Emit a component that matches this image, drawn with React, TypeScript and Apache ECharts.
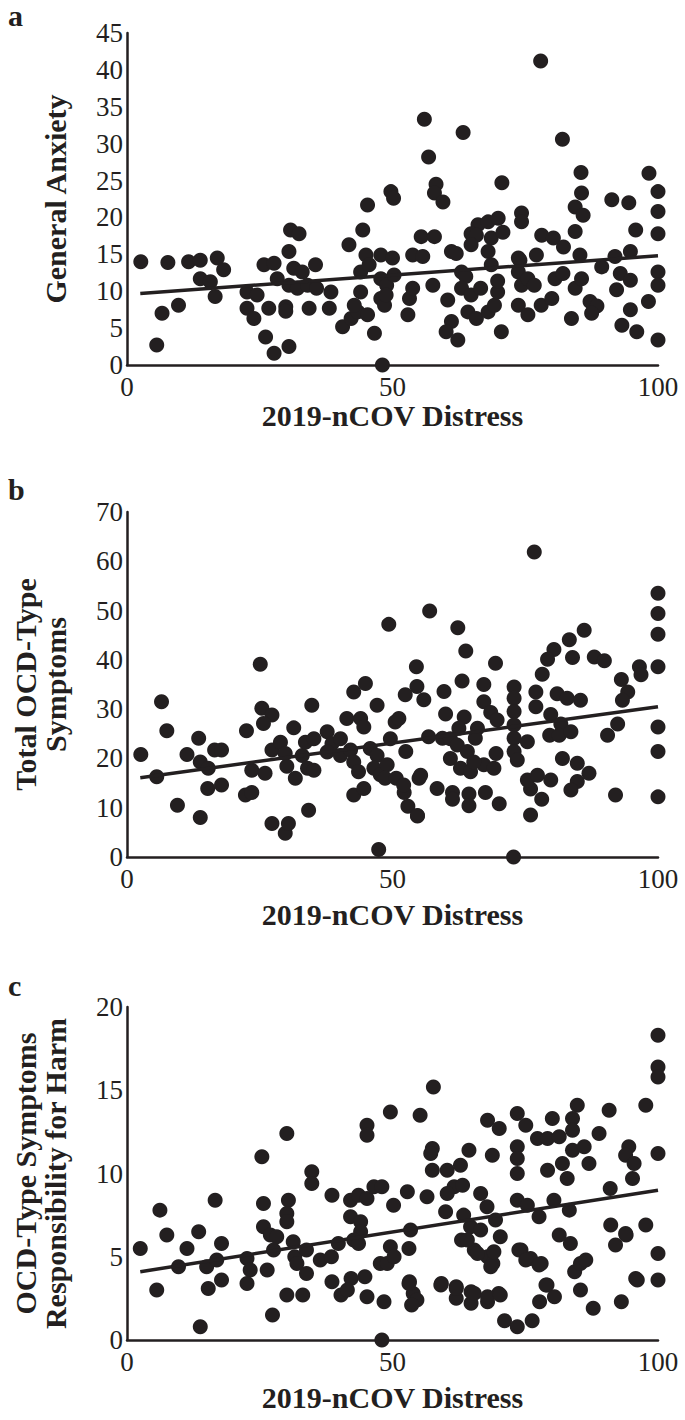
import React, { useEffect, useRef } from "react";
import * as echarts from "echarts";

const xTicks = [0, 50, 100];
const xName = "2019-nCOV Distress";
const panelLetters = ["a", "b", "c"];
const yNames = ["General Anxiety", "Total OCD-Type\nSymptoms", "OCD-Type Symptoms\nResponsibility for Harm"];
const yMax = [45, 70, 20];
const yStep = [5, 10, 5];

const pointsA: number[][] = [
  [2.6, 14.0], [7.7, 13.9], [11.6, 14.0], [13.8, 14.2], [17, 14.5], [18.2, 12.9], [13.8, 11.7], [15.7, 11.3], [16.6, 9.3], [6.6, 7.0], [9.7, 8.1], [5.6, 2.7],
  [25.8, 13.6], [27.7, 13.8], [30.8, 18.3], [32.4, 17.8], [30.5, 15.4], [28.3, 11.7], [31.4, 13.1], [33, 12.6], [35.5, 13.6], [30.5, 10.8], [32.1, 10.4], [34, 10.8], [35.7, 10.4], [38.4, 9.9], [22.6, 9.9], [24.5, 9.5], [22.6, 7.7], [23.9, 6.3], [26.7, 7.7], [29.9, 7.9], [29.9, 7.3], [34.3, 7.7], [38.1, 7.7], [26.1, 3.8], [27.7, 1.6], [30.5, 2.5],
  [40.6, 5.2], [42.2, 6.3], [43.5, 7.2], [42.8, 8.1], [45.3, 6.8], [46.6, 4.3], [48.1, 0], [41.8, 16.3], [44.4, 18.3], [45.3, 21.7], [49.7, 23.5], [50.2, 22.6], [45, 14.9], [47.8, 14.9], [44, 12.6], [45.6, 13.6], [47.8, 11.7], [44, 9.9], [47.8, 9.0], [48.5, 8.1], [48.9, 10.8],
  [77.9, 41.2], [56, 33.3], [63.3, 31.5], [82, 30.6], [56.8, 28.2], [85.5, 26.1], [98.3, 26], [70.6, 24.7], [58.2, 24.5], [57.9, 23.3], [59.5, 22.1], [85.6, 23.3], [84.4, 21.4], [85.9, 20.3], [91.3, 22.4], [94.5, 22.0], [100, 23.5], [100, 20.8], [100, 17.8], [95.8, 18.3], [94.8, 15.4],
  [74.3, 20.6], [74.3, 19.4], [66.1, 19], [68, 19.4], [69.9, 19.9], [64.8, 17.8], [65.8, 17.6], [68.6, 17.2], [70.8, 18], [64.8, 16.3], [68, 15.4], [55.4, 17.4], [57.9, 17.4], [53.8, 14.9], [55.7, 14.7], [61.1, 15.4], [62, 15.1],
  [78.1, 17.6], [80.3, 17.2], [82.2, 16.0], [84.4, 18.1], [85.3, 14.9], [77.1, 14.9], [74, 14.2], [91.9, 14.7], [89.4, 13.3], [92.9, 12.4], [94.8, 11.5], [100, 12.6], [100, 10.8], [92.2, 10.2], [98.2, 8.6], [87.2, 8.6], [88.5, 8.0], [87.5, 7.0], [83.7, 6.3], [94.8, 7.5], [93.2, 5.4], [96, 4.5], [100, 3.4],
  [50, 14.5], [50.3, 12.2], [48.8, 9.5], [53.2, 9.0], [52.9, 6.8], [53.8, 10.4], [57.6, 10.8], [60.4, 8.8], [61.1, 5.9], [60.1, 4.5], [62.3, 3.4], [63, 12.6], [63.8, 12.0], [63, 10.4], [64.8, 9.5], [66.6, 10.4], [64.2, 7.2], [65.8, 6.3], [68, 7.2], [69.2, 8.1], [69.8, 9.9], [69.8, 11.4], [68.6, 13.6], [70.5, 4.5],
  [73.7, 14.5], [73.7, 12.6], [74.3, 10.8], [75.5, 11.7], [76.7, 10.8], [73.7, 8.1], [75.5, 6.8], [78, 8.1], [80, 9.0], [80.6, 11.7], [82.1, 12.4], [84.4, 10.4], [85.6, 11.7],
];

const pointsB: number[][] = [
  [49.3, 47.2], [25.1, 39.1], [6.5, 31.5], [7.5, 25.6], [2.6, 20.8], [5.6, 16.3], [11.3, 20.8], [13.5, 24.1], [13.8, 19.3], [15.3, 18.0], [16.5, 21.7], [17.8, 21.7], [15.2, 13.9], [17.8, 14.6], [9.5, 10.5], [13.8, 8.0],
  [22.5, 25.6], [25.4, 30.2], [27.3, 28.8], [25.7, 27.1], [23.5, 17.6], [26, 17], [22.3, 12.6], [23.5, 13.1], [27.3, 6.8], [29.8, 4.8], [30.4, 6.8], [34.2, 9.5], [34.8, 30.8], [31.4, 26.2], [27.3, 21.7], [28.9, 23.3], [29.8, 21.0], [30.1, 18.4], [31.7, 16.0], [33, 20.6], [34, 18.0], [35.2, 17.6], [33.6, 23.3], [35.2, 24],
  [37.7, 25.4], [38.6, 23.0], [37.7, 21.3], [40.2, 24.0], [40.2, 20.6], [41.4, 28.1], [42.7, 33.5], [44.9, 35.2], [44, 28.1], [44.6, 26.4], [42.1, 21.7], [42.7, 19.3], [43.6, 17.3], [42.7, 12.6], [44.6, 13.9], [47.1, 30.8], [45.8, 22.0], [47.1, 20.6], [46.5, 18.0], [47.7, 16.7], [49, 18.7], [49.6, 24], [50.5, 27.4], [47.4, 1.5], [72.8, 0],
  [48.6, 16], [50.7, 16], [55, 16], [52.2, 13.1], [52.9, 10.3], [54.7, 8.3], [61.3, 13.1], [61.3, 11.7], [64.4, 12.8], [67.5, 13.1], [76, 13.8], [78.1, 11.7], [92, 12.6], [100, 12.2],
  [76.7, 61.9], [100, 53.5], [100, 49.4], [100, 45.2], [100, 38.6], [100, 26.4], [100, 21.4], [57, 49.9], [62.3, 46.5], [63.8, 41.8], [54.5, 38.6], [69.4, 39.3], [86.1, 46.0], [83.3, 44.1], [80.4, 42.1], [79.2, 40.1], [78.2, 37.1], [83.9, 40.5], [88, 40.6], [89.9, 39.8], [96.5, 38.6], [96.8, 37], [93.1, 36], [94.3, 33.5], [93.3, 31.8],
  [63.1, 35.7], [67.2, 35.0], [72.9, 34.5], [72.9, 32.2], [72.9, 29.5], [72.9, 26.8], [72.9, 24.1], [72.9, 21.4], [73.5, 19.7], [75.4, 23.4], [77, 33.5], [77, 30.5], [79.8, 28.9], [81, 33.1], [82.9, 32.2], [85.4, 31.8], [81.7, 27], [79.6, 24.7], [81.4, 24.7], [83.6, 25.4], [92.4, 27], [90.5, 24.7],
  [82, 20.0], [84.8, 19.0], [87, 17], [84.8, 15.3], [83.6, 13.6], [75.4, 15.6], [77.3, 16.6], [79.8, 15.6], [76, 8.5], [51.2, 28.1], [52.4, 32.9], [54.6, 34.6], [55.9, 31.9], [59.7, 33.6], [60, 29], [63.5, 28.4], [62.5, 26.1], [56.8, 24.4], [59.4, 24.1], [67.2, 31.5], [68.5, 29.3], [69.7, 27.8], [66, 26.1],
  [60.9, 24], [62.2, 22.7], [64.1, 21.4], [65.6, 24.1], [60.9, 20.0], [62.8, 18.0], [64.7, 17.3], [67.2, 18.7], [69.1, 18.0], [69.5, 21], [65.3, 19.3], [55.3, 16.6], [52.5, 21.4], [52.1, 14.6], [58.4, 13.9], [64.4, 10.4], [70.1, 10.8], [54.7, 8.4],
];

const pointsC: number[][] = [
  [6.2, 7.8], [7.5, 6.3], [2.5, 5.5], [11.3, 5.5], [13.5, 6.5], [16.6, 8.4], [17.8, 5.8], [9.7, 4.4], [15, 4.4], [16.9, 4.8], [5.6, 3.0], [15.3, 3.1], [17.8, 3.6], [22.6, 4.9], [23.2, 4.2], [22.6, 3.4], [26.4, 4.2],
  [25.4, 11.0], [30.1, 12.4], [25.7, 8.2], [30.4, 8.4], [30.1, 7.6], [30.1, 7.1], [25.7, 6.8], [27, 6.3], [28.2, 6.2], [27.6, 5.4], [31.3, 5.9], [31.6, 5.0], [33.8, 5.4], [32, 4.6], [33.8, 4.0], [36.4, 4.8], [34.8, 10.1], [34.8, 9.4], [38.6, 8.7],
  [42.1, 8.4], [43.6, 8.7], [45.2, 8.5], [46.5, 9.2], [48, 9.2], [45.2, 12.9], [45.2, 12.3], [49.6, 13.7], [42.1, 7.4], [44, 7.1], [44, 6.5], [42.7, 6.0], [43.6, 5.8], [39.8, 5.8], [38.5, 5.0], [42.2, 3.7], [44.8, 3.8], [38.6, 3.5], [30.1, 2.7], [33.1, 2.7], [40.3, 2.7], [45.2, 2.6], [47.7, 4.6], [49, 4.6], [50.2, 8.1],
  [13.8, 0.8], [27.4, 1.5], [48, 0], [41.5, 3.0], [48.4, 2.3], [53.2, 3.5], [53.9, 2.8], [54.6, 2.4], [53.6, 2.1], [59.2, 3.4], [62, 3.2], [62, 2.5], [64.8, 2.9], [64.8, 2.2], [67.9, 2.3], [70, 2.8], [71.1, 1.15], [73.5, 0.8], [76.3, 1.15], [77.7, 2.3], [79.1, 3.3], [80.5, 2.6],
  [74.2, 5.4], [76, 4.9], [78, 4.6], [85.4, 3.0], [87.8, 1.9], [84.3, 4.1], [85.4, 4.6], [86.4, 4.8], [93.1, 2.3], [95.8, 3.7], [100, 3.6], [100, 5.2], [92, 5.7], [94, 6.3], [83.5, 5.8], [81.4, 6.3], [63, 6.0], [65.4, 5.4], [67.9, 5.0], [68.9, 4.6], [70.3, 6.2],
  [100, 18.3], [100, 16.4], [100, 15.8], [100, 11.2], [57.7, 15.2], [55.2, 13.5], [67.9, 13.2], [70.1, 12.7], [73.5, 13.6], [75.1, 12.9], [80.1, 13.3], [84.8, 14.1], [83.9, 13.3], [83.9, 12.6], [90.8, 13.8], [97.7, 14.1], [77.3, 12.1], [79.2, 12.1], [81.4, 12.2], [88.9, 12.4],
  [57.5, 11.5], [57.2, 11.2], [64.4, 11.4], [68.8, 11.1], [73.5, 11.6], [73.5, 10.9], [73.5, 10.0], [83.9, 11.4], [86.1, 11.6], [82.0, 10.6], [79.2, 10.2], [82.9, 9.7], [87.0, 10.6], [94.5, 11.6], [93.9, 11.1], [95.5, 10.6], [95.2, 9.7], [57.5, 10.2], [60.3, 10.2], [62.8, 10.5], [61.6, 9.2], [63.2, 9.3], [56.5, 8.6], [52.8, 8.9],
  [60.3, 8.8], [60, 7.7], [66.6, 8.8], [67.8, 8.0], [69.4, 7.2], [73.5, 8.4], [75.4, 8.1], [77.6, 7.4], [80.4, 8.4], [83.3, 7.8], [91.0, 9.1], [63.4, 7.5], [64.7, 6.8], [66.6, 6.6], [64.1, 6.0], [66, 5.2], [69.1, 5.3], [53.4, 6.6], [53.1, 5.5], [49.6, 5.6], [50.3, 5.0],
  [91.1, 6.9], [93.9, 6.4], [97.7, 6.9], [73.8, 5.4], [75.1, 4.8], [77.6, 4.5], [68.5, 4.4], [53.1, 3.4], [59.1, 3.3], [62.0, 3.1], [65.4, 2.8], [67.9, 2.6], [70.3, 2.7], [78.9, 3.3], [96.1, 3.6],
];

const trendA: number[][] = [[2.5, 9.7], [100, 14.8]];
const trendB: number[][] = [[2.5, 16.1], [100, 30.5]];
const trendC: number[][] = [[2.5, 4.1], [100, 9.0]];

const allPoints = [pointsA, pointsB, pointsC];
const allTrends = [trendA, trendB, trendC];

const INK = "#231f20";
const FONT = "'Liberation Serif', 'Times New Roman', serif";
const gridTops = [33, 512, 1007];
const gridHeights = [332, 345, 333];
const yNameGaps = [57, 57, 57];
const xNameGaps = [34, 42, 42];
const letterTops = [0, 474, 970];

export default function App() {
  const ref = useRef<HTMLDivElement>(null);
  useEffect(() => {
    document.body.style.margin = "0";
    const chart = echarts.init(ref.current!, undefined, { renderer: "svg" });
    const grids = gridTops.map((t, i) => ({ left: 127, width: 531, top: t, height: gridHeights[i], containLabel: false }));
    const xAxes = gridTops.map((_, i) => ({
      type: "value",
      gridIndex: i,
      min: xTicks[0],
      max: xTicks[xTicks.length - 1],
      interval: xTicks[1] - xTicks[0],
      name: xName,
      nameLocation: "middle",
      nameGap: xNameGaps[i],
      nameTextStyle: { fontFamily: FONT, fontWeight: "bold", fontSize: 30, color: INK },
      axisLine: { show: true, onZero: false, lineStyle: { color: INK, width: 2.5 } },
      axisTick: { show: false },
      splitLine: { show: false },
      axisLabel: { fontFamily: FONT, fontSize: 27, color: INK, margin: 8 },
    }));
    const yAxes = gridTops.map((_, i) => ({
      type: "value",
      gridIndex: i,
      min: 0,
      max: yMax[i],
      interval: yStep[i],
      name: yNames[i],
      nameLocation: "middle",
      nameGap: yNameGaps[i],
      nameTextStyle: { fontFamily: FONT, fontWeight: "bold", fontSize: 30, color: INK, lineHeight: 30 },
      axisLine: { show: true, onZero: false, lineStyle: { color: INK, width: 2.5 } },
      axisTick: { show: false },
      splitLine: { show: false },
      axisLabel: { fontFamily: FONT, fontSize: 27, color: INK, margin: 4 },
    }));
    const series: any[] = [];
    allPoints.forEach((pts, i) => {
      series.push({
        type: "scatter",
        xAxisIndex: i,
        yAxisIndex: i,
        data: pts,
        symbol: "circle",
        symbolSize: 15,
        itemStyle: { color: INK, opacity: 1 },
        clip: false,
      });
      series.push({
        type: "line",
        xAxisIndex: i,
        yAxisIndex: i,
        data: allTrends[i],
        symbol: "none",
        lineStyle: { color: INK, width: 3.5 },
        z: 3,
      });
    });
    chart.setOption({
      animation: false,
      backgroundColor: "#ffffff",
      grid: grids,
      xAxis: xAxes,
      yAxis: yAxes,
      series,
      graphic: panelLetters.map((l, i) => ({
        type: "text",
        left: 8,
        top: letterTops[i],
        style: { text: l, fontFamily: FONT, fontWeight: "bold", fontSize: 30, fill: INK },
      })),
    });
    return () => chart.dispose();
  }, []);
  return <div ref={ref} style={{ width: 685, height: 1420 }} />;
}
